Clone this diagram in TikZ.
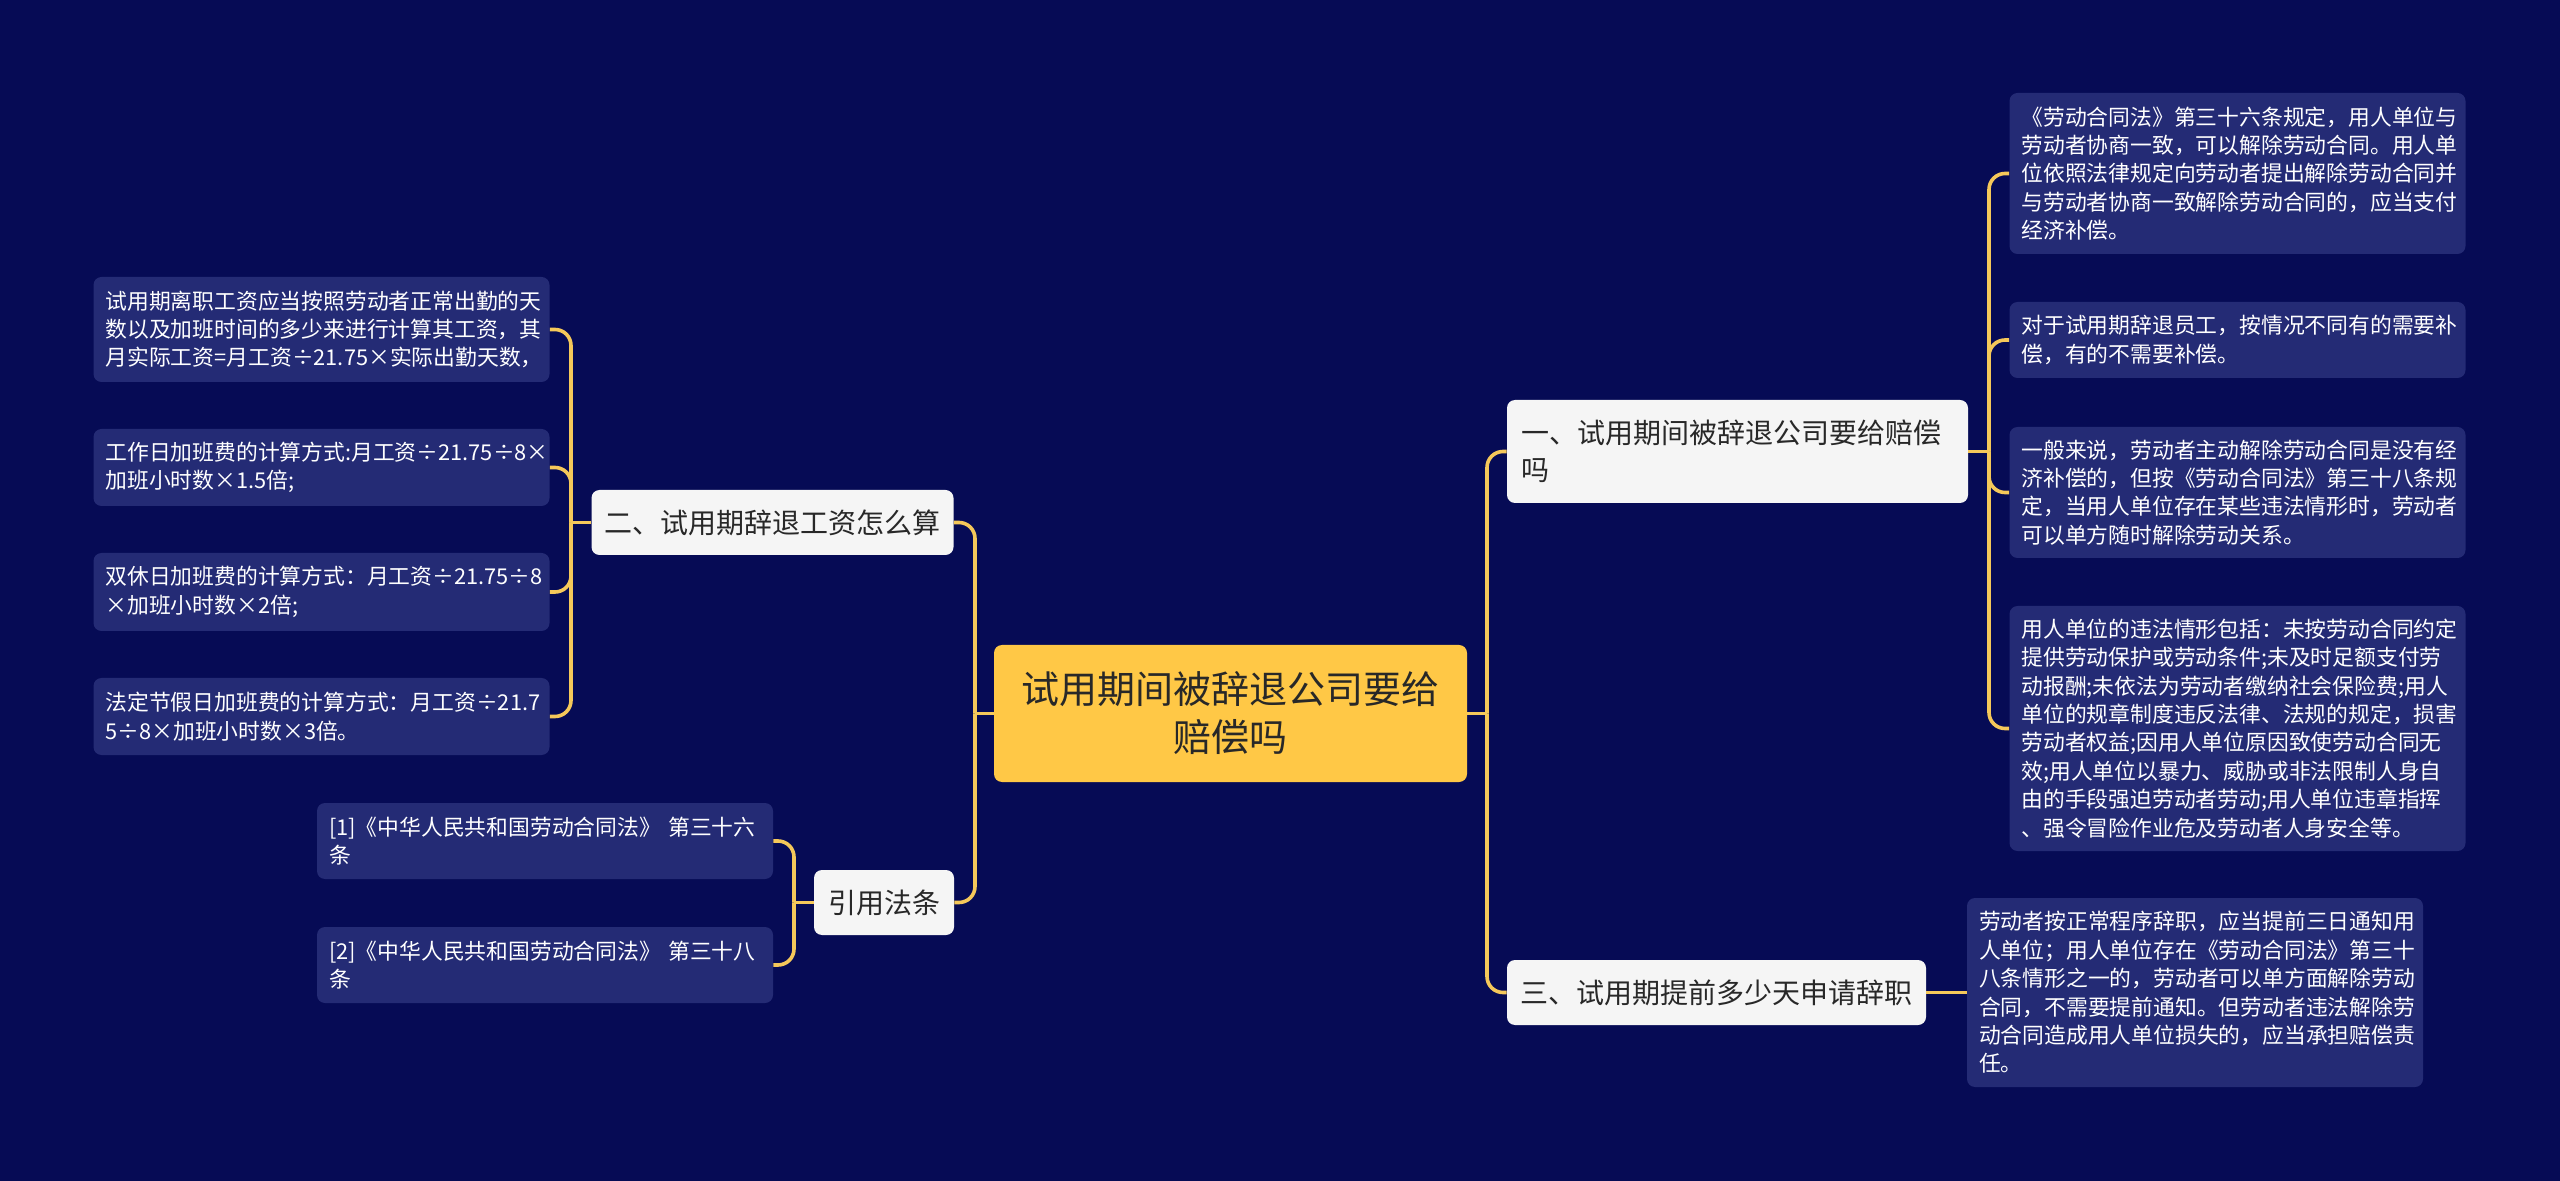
\documentclass[tikz,border=0pt]{standalone}
\usepackage{fontspec}
\setmainfont{Noto Sans CJK SC}
\definecolor{bgc}{RGB}{6,11,85}
\definecolor{leafc}{RGB}{36,43,117}
\definecolor{linec}{RGB}{245,200,90}
\definecolor{rootc}{RGB}{255,200,70}
\definecolor{branchc}{RGB}{245,245,245}
\definecolor{darktext}{RGB}{40,40,40}
\newcommand{\leaffont}{\fontsize{10.9}{14.2}\selectfont}
\newcommand{\branchfont}{\fontsize{14}{18.5}\selectfont}
\newcommand{\rootfont}{\fontsize{19}{24}\selectfont}
\begin{document}
\begin{tikzpicture}[x=0.5pt,y=-0.5pt,
  leafbox/.style={fill=leafc, rounded corners=4pt, text=white, font=\leaffont,
    text width=216pt, inner xsep=6pt, inner ysep=0pt, align=left, anchor=center},
  branchbox/.style={fill=branchc, rounded corners=4pt, text=darktext, font=\branchfont,
    inner xsep=0pt, inner ysep=0pt, align=center, anchor=center},
  rootbox/.style={fill=rootc, rounded corners=4pt, text=darktext, font=\rootfont,
    inner xsep=0pt, inner ysep=0pt, align=center, anchor=center, text width=236.5pt},
  conn/.style={draw=linec, line width=1.8pt, rounded corners=8pt}
]
\fill[bgc] (0,0) rectangle (2560,1181);
\useasboundingbox (0,0) rectangle (2560,1181);

% root
\node[rootbox, minimum height=68.5pt] (root) at (1230.5,713.5) {试用期间被辞退公司要给\\赔偿吗};

% right branches
\node[branchbox, text width=216.5pt, inner xsep=7pt, align=left, minimum height=51.5pt] (b1) at (1737.5,451.5) {一、试用期间被辞退公司要给赔偿\\吗};
\node[branchbox, minimum width=209.5pt, minimum height=32.5pt] (b3) at (1716.5,992.5) {三、试用期提前多少天申请辞职};

% left branches
\node[branchbox, minimum width=181pt, minimum height=32.5pt] (b2) at (772.5,522.5) {二、试用期辞退工资怎么算};
\node[branchbox, minimum width=70pt, minimum height=32.5pt] (ref) at (884,902.5) {引用法条};

% right leaves
\node[leafbox, minimum height=80.5pt] (l1) at (2237.5,173.5) {《劳动合同法》第三十六条规定，用人单位与\\劳动者协商一致，可以解除劳动合同。用人单\\位依照法律规定向劳动者提出解除劳动合同并\\与劳动者协商一致解除劳动合同的，应当支付\\经济补偿。};
\node[leafbox, minimum height=38pt] (l2) at (2237.5,340) {对于试用期辞退员工，按情况不同有的需要补\\偿，有的不需要补偿。};
\node[leafbox, minimum height=65.5pt] (l3) at (2237.5,492.5) {一般来说，劳动者主动解除劳动合同是没有经\\济补偿的，但按《劳动合同法》第三十八条规\\定，当用人单位存在某些违法情形时，劳动者\\可以单方随时解除劳动关系。};
\node[leafbox, minimum height=122.5pt] (l4) at (2237.5,728.5) {用人单位的违法情形包括：未按劳动合同约定\\提供劳动保护或劳动条件;未及时足额支付劳\\动报酬;未依法为劳动者缴纳社会保险费;用人\\单位的规章制度违反法律、法规的规定，损害\\劳动者权益;因用人单位原因致使劳动合同无\\效;用人单位以暴力、威胁或非法限制人身自\\由的手段强迫劳动者劳动;用人单位违章指挥\\、强令冒险作业危及劳动者人身安全等。};
\node[leafbox, minimum height=94.5pt] (l5) at (2195,992.5) {劳动者按正常程序辞职，应当提前三日通知用\\人单位；用人单位存在《劳动合同法》第三十\\八条情形之一的，劳动者可以单方面解除劳动\\合同，不需要提前通知。但劳动者违法解除劳\\动合同造成用人单位损失的，应当承担赔偿责\\任。};

% left leaves
\node[leafbox, minimum height=52.5pt] (ll1) at (321.5,329.5) {试用期离职工资应当按照劳动者正常出勤的天\\数以及加班时间的多少来进行计算其工资，其\\月实际工资=月工资÷21.75×实际出勤天数，};
\node[leafbox, minimum height=38.5pt] (ll2) at (321.5,467.5) {工作日加班费的计算方式:月工资÷21.75÷8×\\加班小时数×1.5倍;};
\node[leafbox, minimum height=39pt] (ll3) at (321.5,592) {双休日加班费的计算方式：月工资÷21.75÷8\\×加班小时数×2倍;};
\node[leafbox, minimum height=38.5pt] (ll4) at (321.5,716.5) {法定节假日加班费的计算方式：月工资÷21.7\\5÷8×加班小时数×3倍。};

% reference leaves
\node[leafbox, minimum height=38pt] (r1) at (545,841) {{[1]}《中华人民共和国劳动合同法》 第三十六\\条};
\node[leafbox, minimum height=38pt] (r2) at (545,965) {{[2]}《中华人民共和国劳动合同法》 第三十八\\条};

% junction coordinates
\coordinate (jr) at (1487,713.5);
\coordinate (jl) at (975,713.5);
\coordinate (j1) at (1989,451.5);
\coordinate (j2) at (571,522.5);
\coordinate (jref) at (794,902.5);

% connectors
\draw[conn] (root.east) -- (jr);
\draw[conn] (jr) |- (b1.west);
\draw[conn] (jr) |- (b3.west);
\draw[conn] (root.west) -- (jl);
\draw[conn] (jl) |- (b2.east);
\draw[conn] (jl) |- (ref.east);

\draw[conn] (b1.east) -- (j1);
\draw[conn] (j1) |- (l1.west);
\draw[conn] (j1) |- (l2.west);
\draw[conn] (j1) |- (l3.west);
\draw[conn] (j1) |- (l4.west);
\draw[conn] (b3.east) -- (l5.west);

\draw[conn] (b2.west) -- (j2);
\draw[conn] (j2) |- (ll1.east);
\draw[conn] (j2) |- (ll2.east);
\draw[conn] (j2) |- (ll3.east);
\draw[conn] (j2) |- (ll4.east);

\draw[conn] (ref.west) -- (jref);
\draw[conn] (jref) |- (r1.east);
\draw[conn] (jref) |- (r2.east);
\end{tikzpicture}
\end{document}
